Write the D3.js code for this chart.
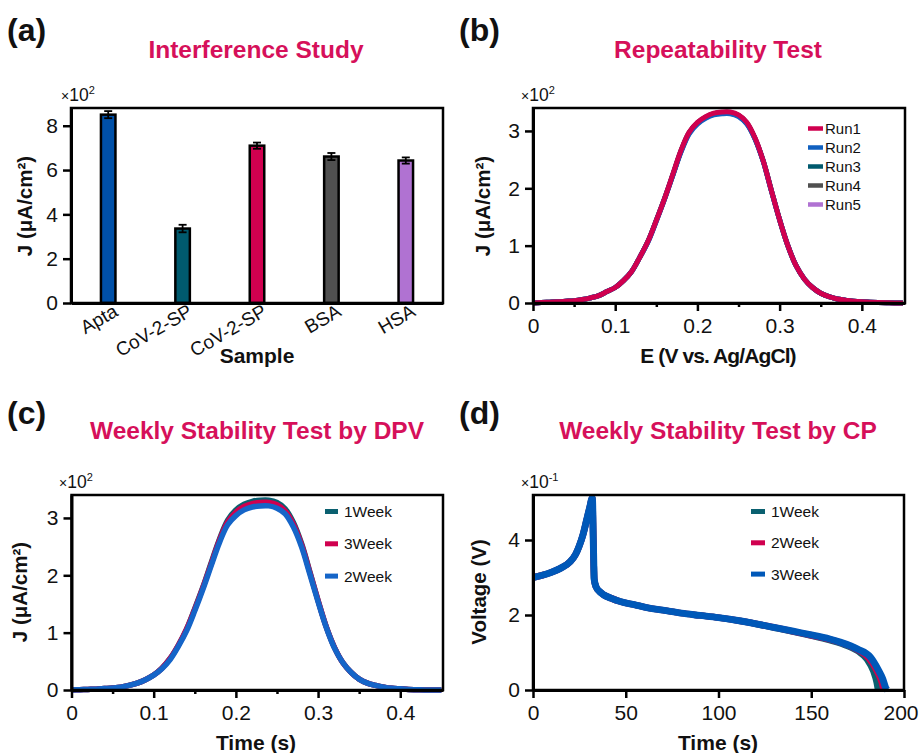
<!DOCTYPE html>
<html><head><meta charset="utf-8">
<script src="https://cdn.jsdelivr.net/npm/d3@7"></script>
<style>body{margin:0;background:#fff}svg{display:block}</style>
</head><body><svg id="fig" width="920" height="753"></svg>
<script>
// ---------------- DATA ----------------
// (a) Interference study
const samples = ["Apta", "CoV-2-SP", "CoV-2-SP", "BSA", "HSA"];
const sampleJ = [8.50, 3.36, 7.10, 6.61, 6.43];      // x10^2 uA/cm2
const sampleErr = [0.16, 0.17, 0.14, 0.16, 0.14];
const ticksA = [0, 2, 4, 6, 8];

// (b) Repeatability test (DPV)
const potentialE = [0,0.01,0.02,0.03,0.04,0.05,0.06,0.07,0.08,0.09,0.10,0.11,0.12,0.13,0.14,0.15,0.16,0.17,0.18,0.19,0.20,0.21,0.22,0.23,0.24,0.25,0.26,0.27,0.28,0.29,0.30,0.31,0.32,0.33,0.34,0.35,0.36,0.37,0.38,0.39,0.40,0.41,0.42,0.43,0.44,0.45];
const run1 = [0,0.01,0.015,0.02,0.03,0.04,0.06,0.09,0.13,0.20,0.27,0.39,0.55,0.80,1.08,1.44,1.82,2.24,2.66,2.98,3.15,3.25,3.31,3.33,3.33,3.28,3.15,2.88,2.48,1.96,1.45,1.00,0.65,0.42,0.27,0.17,0.11,0.07,0.05,0.03,0.02,0.015,0.01,0.005,0,0];
const run2 = [0,0.01,0.015,0.02,0.03,0.04,0.06,0.09,0.13,0.20,0.27,0.39,0.55,0.80,1.07,1.43,1.81,2.22,2.63,2.95,3.12,3.22,3.28,3.30,3.30,3.25,3.12,2.86,2.47,1.95,1.45,1.00,0.65,0.42,0.27,0.17,0.11,0.07,0.05,0.03,0.02,0.015,0.01,0.005,0,0];
const run3 = [0,0.01,0.015,0.02,0.03,0.04,0.06,0.09,0.13,0.20,0.27,0.39,0.55,0.80,1.08,1.44,1.82,2.23,2.65,2.97,3.14,3.24,3.30,3.32,3.32,3.27,3.14,2.87,2.48,1.96,1.45,1.00,0.65,0.42,0.27,0.17,0.11,0.07,0.05,0.03,0.02,0.015,0.01,0.005,0,0];
const run4 = [0,0.01,0.015,0.02,0.03,0.04,0.06,0.09,0.13,0.20,0.27,0.39,0.55,0.80,1.08,1.44,1.82,2.23,2.65,2.97,3.14,3.24,3.30,3.32,3.31,3.27,3.14,2.87,2.48,1.96,1.45,1.00,0.65,0.42,0.27,0.17,0.11,0.07,0.05,0.03,0.02,0.015,0.01,0.005,0,0];
const run5 = [0,0.01,0.015,0.02,0.03,0.04,0.06,0.09,0.13,0.20,0.27,0.39,0.55,0.80,1.07,1.43,1.81,2.23,2.64,2.96,3.13,3.23,3.29,3.31,3.31,3.26,3.13,2.87,2.47,1.96,1.45,1.00,0.65,0.42,0.27,0.17,0.11,0.07,0.05,0.03,0.02,0.015,0.01,0.005,0,0];
const runNames = ["Run1", "Run2", "Run3", "Run4", "Run5"];
const ticksBx = [0, 0.1, 0.2, 0.3, 0.4];
const minorBx = [0.05, 0.15, 0.25, 0.35];
const ticksBy = [0, 1, 2, 3];

// (c) Weekly stability by DPV
const dpvTime = [0,0.01,0.02,0.03,0.04,0.05,0.06,0.07,0.08,0.09,0.10,0.11,0.12,0.13,0.14,0.15,0.16,0.17,0.18,0.19,0.20,0.21,0.22,0.23,0.24,0.25,0.26,0.27,0.28,0.29,0.30,0.31,0.32,0.33,0.34,0.35,0.36,0.37,0.38,0.39,0.40,0.41,0.42,0.43,0.44,0.45];
const dpvWeek1 = [0,0.005,0.01,0.015,0.025,0.035,0.05,0.08,0.12,0.18,0.26,0.38,0.55,0.78,1.06,1.42,1.80,2.22,2.63,2.96,3.14,3.24,3.29,3.31,3.31,3.27,3.16,2.92,2.55,2.06,1.56,1.10,0.74,0.48,0.31,0.19,0.12,0.08,0.05,0.03,0.02,0.01,0.005,0,0,0];
const dpvWeek3 = [0,0.005,0.01,0.015,0.025,0.035,0.05,0.08,0.12,0.18,0.26,0.38,0.55,0.78,1.06,1.41,1.79,2.20,2.61,2.93,3.10,3.20,3.25,3.27,3.27,3.23,3.12,2.89,2.53,2.05,1.56,1.10,0.74,0.48,0.31,0.19,0.12,0.08,0.05,0.03,0.02,0.01,0.005,0,0,0];
const dpvWeek2 = [0,0.005,0.01,0.015,0.025,0.035,0.05,0.08,0.12,0.18,0.26,0.37,0.53,0.76,1.03,1.38,1.76,2.17,2.57,2.88,3.04,3.14,3.19,3.21,3.21,3.17,3.07,2.84,2.49,2.02,1.54,1.09,0.73,0.48,0.31,0.19,0.12,0.08,0.05,0.03,0.02,0.01,0.005,0,0,0];
const ticksCx = [0, 0.1, 0.2, 0.3, 0.4];
const minorCx = [0.05, 0.15, 0.25, 0.35];
const ticksCy = [0, 1, 2, 3];

// (d) Weekly stability by CP
const cpTime1 = [0,5,10,15,20,23,25,27,29,30.5,32,32.5,33,34,36,38,42,47,55,62,70,80,90,100,112,130,148,160,166,175,180,183.5,185.3,186];
const cpVolt1 = [3.00,3.06,3.14,3.25,3.42,3.62,3.85,4.15,4.55,4.85,5.12,4.00,2.95,2.75,2.62,2.54,2.45,2.36,2.27,2.19,2.13,2.05,1.99,1.93,1.84,1.66,1.47,1.33,1.24,1.04,0.82,0.50,0.20,0];
const cpTime2 = [0,5,10,15,20,23,25,27,29,30.5,32,32.5,33,34,36,38,42,47,55,62,70,80,90,100,112,130,148,160,166,175,181,185.5,188,189];
const cpVolt2 = [3.00,3.06,3.14,3.25,3.42,3.62,3.85,4.15,4.55,4.85,5.12,4.00,2.95,2.75,2.62,2.54,2.45,2.36,2.27,2.19,2.13,2.05,1.99,1.93,1.84,1.67,1.48,1.35,1.26,1.07,0.85,0.50,0.20,0];
const cpTime3 = [0,5,10,15,20,23,25,27,29,30.5,32,32.5,33,34,36,38,42,47,55,62,70,80,90,100,112,130,148,160,166,175,182,186,188.5,190.2,191];
const cpVolt3 = [3.00,3.06,3.14,3.25,3.42,3.62,3.85,4.15,4.55,4.85,5.12,4.00,2.95,2.75,2.62,2.54,2.45,2.36,2.27,2.19,2.13,2.05,1.99,1.93,1.84,1.67,1.49,1.36,1.27,1.09,0.87,0.55,0.30,0.05,0];
const ticksDx = [0, 50, 100, 150, 200];
const ticksDy = [0, 2, 4];

// ---------------- STYLE ----------------
const FONT = "Arial, 'Liberation Sans', Helvetica, sans-serif";
const C_BLUE = "#0050a8", C_TEAL = "#005a6e", C_CRIM = "#d0004f", C_GRAY = "#505050", C_PURP = "#b072d2";
const C_TITLE = "#d6105a";
const barColors = [C_BLUE, C_TEAL, C_CRIM, C_GRAY, C_PURP];
const TICK_FS = 21;

const svg = d3.select("#fig").style("font-family", FONT);

function styleAxis(g, fs) {
  g.selectAll("path.domain").attr("stroke", "#000").attr("stroke-width", 3);
  g.selectAll(".tick line").attr("stroke", "#000").attr("stroke-width", 2.5);
  g.selectAll("text").attr("font-size", fs || TICK_FS).attr("font-family", FONT).attr("fill", "#111");
}
function frame(L, R, T, B) {
  svg.append("rect").attr("x", L).attr("y", T).attr("width", R - L).attr("height", B - T)
    .attr("fill", "none").attr("stroke", "#000").attr("stroke-width", 2.5);
}
function numFmt(d) { return d === 0 ? "0" : String(d); }
function title(x, y, t) {
  svg.append("text").attr("x", x).attr("y", y).attr("text-anchor", "middle")
    .attr("font-size", 24.5).attr("font-weight", "bold").attr("fill", C_TITLE).text(t);
}
function panelLabel(x, y, t) {
  svg.append("text").attr("x", x).attr("y", y).attr("font-size", 32).attr("font-weight", "bold").attr("fill", "#111").text(t);
}
function yLabel(x, y, t) {
  svg.append("text").attr("transform", `translate(${x},${y}) rotate(-90)`).attr("text-anchor", "middle")
    .attr("font-size", 20.5).attr("font-weight", "bold").attr("fill", "#111").text(t);
}
function xLabel(x, y, t, ls) {
  svg.append("text").attr("x", x).attr("y", y).attr("text-anchor", "middle")
    .attr("font-size", 21).attr("font-weight", "bold").attr("fill", "#111")
    .attr("letter-spacing", ls || 0).text(t);
}
function multiplier(x, y, exp) {
  const t = svg.append("text").attr("x", x).attr("y", y).attr("fill", "#111").attr("font-size", 17.5);
  t.append("tspan").attr("font-size", 14).text("×");
  t.append("tspan").text("10");
  t.append("tspan").attr("font-size", 11).attr("dy", -7).text(exp);
}
function yAxis(scale, L, ticks) {
  const g = svg.append("g").attr("transform", `translate(${L},0)`)
    .call(d3.axisLeft(scale).tickValues(ticks).tickFormat(numFmt).tickSize(8).tickPadding(5).tickSizeOuter(0));
  styleAxis(g);
}
function xAxis(scale, B, ticks, minor) {
  if (minor) {
    const gm = svg.append("g").attr("transform", `translate(0,${B})`)
      .call(d3.axisBottom(scale).tickValues(minor).tickFormat("").tickSize(4).tickSizeOuter(0));
    styleAxis(gm);
    gm.select("path.domain").remove();
  }
  const g = svg.append("g").attr("transform", `translate(0,${B})`)
    .call(d3.axisBottom(scale).tickValues(ticks).tickFormat(numFmt).tickSize(8).tickPadding(7).tickSizeOuter(0));
  styleAxis(g);
  return g;
}
function legend(items, xSw, wSw, hSw, xTxt, y0, dy, fs) {
  items.forEach((it, i) => {
    const cy = y0 + i * dy;
    svg.append("rect").attr("x", xSw).attr("y", cy - hSw / 2).attr("width", wSw).attr("height", hSw).attr("fill", it.color);
    svg.append("text").attr("x", xTxt).attr("y", cy).attr("dy", "0.35em").attr("font-size", fs).attr("fill", "#111").text(it.name);
  });
}

// ---------------- PANEL (a) ----------------
{
  const L = 71, R = 443, T = 108, B = 303;
  const x = d3.scaleBand().domain(d3.range(samples.length)).range([L, R]).paddingInner(0.805).paddingOuter(0.4025);
  const y = d3.scaleLinear().domain([0, 8.8]).range([B, T]);
  panelLabel(7, 41, "(a)");
  title(256, 58, "Interference Study");
  svg.append("g").selectAll("rect").data(sampleJ).join("rect")
    .attr("x", (d, i) => x(i)).attr("width", x.bandwidth())
    .attr("y", d => y(d)).attr("height", d => y(0) - y(d))
    .attr("fill", (d, i) => barColors[i]).attr("stroke", "#000").attr("stroke-width", 2.5);
  const eg = svg.append("g").attr("stroke", "#000").attr("stroke-width", 1.8);
  sampleJ.forEach((v, i) => {
    const cx = x(i) + x.bandwidth() / 2, e = sampleErr[i];
    eg.append("line").attr("x1", cx).attr("x2", cx).attr("y1", y(v + e)).attr("y2", y(v - e));
    eg.append("line").attr("x1", cx - 4).attr("x2", cx + 4).attr("y1", y(v + e)).attr("y2", y(v + e));
    eg.append("line").attr("x1", cx - 4).attr("x2", cx + 4).attr("y1", y(v - e)).attr("y2", y(v - e));
  });
  frame(L, R, T, B);
  yAxis(y, L, ticksA);
  const gx = svg.append("g").attr("transform", `translate(0,${B})`)
    .call(d3.axisBottom(x).tickFormat(i => samples[i]).tickSize(0).tickSizeOuter(0));
  styleAxis(gx, 19);
  gx.selectAll(".tick text").attr("text-anchor", "end").attr("y", 0).attr("dy", 0)
    .attr("transform", "translate(11,12) rotate(-30)");
  multiplier(61, 101, "2");
  yLabel(32, 206, "J (μA/cm²)");
  xLabel(257, 363, "Sample");
}

// ---------------- PANEL (b) ----------------
{
  const L = 533, R = 905, T = 108, B = 303;
  const x = d3.scaleLinear().domain([0, 0.4525]).range([L, R]);
  const y = d3.scaleLinear().domain([0, 3.4]).range([B, T]);
  panelLabel(459, 41, "(b)");
  title(718, 58, "Repeatability Test");
  const runs = [run1, run2, run3, run4, run5];
  const runColors = [C_CRIM, "#1060c0", C_TEAL, C_GRAY, C_PURP];
  const line = d3.line().x(d => x(d[0])).y(d => y(d[1])).curve(d3.curveCatmullRom.alpha(0.5));
  [4, 3, 2, 1, 0].forEach(k => {
    svg.append("path").datum(potentialE.map((e, i) => [e, runs[k][i]]))
      .attr("d", line).attr("fill", "none").attr("stroke", runColors[k]).attr("stroke-width", 5);
  });
  frame(L, R, T, B);
  yAxis(y, L, ticksBy);
  xAxis(x, B, ticksBx, minorBx);
  multiplier(521, 101, "2");
  legend(runNames.map((n, i) => ({ name: n, color: runColors[i] })), 808, 15, 4.5, 825, 128.5, 19, 15);
  yLabel(490, 206, "J (μA/cm²)");
  xLabel(718, 363, "E (V vs. Ag/AgCl)", -0.9);
}

// ---------------- PANEL (c) ----------------
{
  const L = 71.5, R = 443, T = 495, B = 690;
  const x = d3.scaleLinear().domain([0, 0.452]).range([L, R]);
  const y = d3.scaleLinear().domain([0, 3.4]).range([B, T]);
  panelLabel(7, 424, "(c)");
  title(257, 439, "Weekly Stability Test by DPV");
  const line = d3.line().x(d => x(d[0])).y(d => y(d[1])).curve(d3.curveCatmullRom.alpha(0.5));
  const weeks = [
    { name: "1Week", vals: dpvWeek1, color: "#0a6070" },
    { name: "3Week", vals: dpvWeek3, color: C_CRIM },
    { name: "2Week", vals: dpvWeek2, color: "#1565c8" }
  ];
  weeks.forEach(w => {
    svg.append("path").datum(dpvTime.map((t, i) => [t, w.vals[i]]))
      .attr("d", line).attr("fill", "none").attr("stroke", w.color).attr("stroke-width", 5.5);
  });
  frame(L, R, T, B);
  yAxis(y, L, ticksCy);
  xAxis(x, B, ticksCx, minorCx);
  multiplier(59, 488, "2");
  legend(weeks, 325, 13, 5, 344, 511.5, 32.3, 15.5);
  yLabel(27, 592, "J (μA/cm²)");
  xLabel(256, 750, "Time (s)");
}

// ---------------- PANEL (d) ----------------
{
  const L = 533, R = 904, T = 495, B = 690;
  const x = d3.scaleLinear().domain([0, 200]).range([L, R]);
  const y = d3.scaleLinear().domain([0, 5.2]).range([B, T]);
  panelLabel(459, 424, "(d)");
  title(718, 439, "Weekly Stability Test by CP");
  const line = d3.line().x(d => x(d[0])).y(d => y(d[1])).curve(d3.curveMonotoneX);
  const weeks = [
    { name: "1Week", t: cpTime1, v: cpVolt1, color: "#0a6070", w: 6.5 },
    { name: "2Week", t: cpTime2, v: cpVolt2, color: C_CRIM, w: 6.5 },
    { name: "3Week", t: cpTime3, v: cpVolt3, color: "#0058b8", w: 7 }
  ];
  weeks.forEach(w => {
    svg.append("path").datum(w.t.map((t, i) => [t, w.v[i]]))
      .attr("d", line).attr("fill", "none").attr("stroke", w.color).attr("stroke-width", w.w);
  });
  frame(L, R, T, B);
  yAxis(y, L, ticksDy);
  const gx = xAxis(x, B, ticksDx, null);
  gx.selectAll(".tick text").filter(d => d === 200).attr("text-anchor", "end").attr("dx", 14);
  multiplier(521, 488, "-1");
  legend(weeks, 751, 14, 5, 771, 511.5, 31.3, 15.5);
  yLabel(486, 592, "Voltage (V)");
  xLabel(718, 750, "Time (s)");
}
</script></body></html>
